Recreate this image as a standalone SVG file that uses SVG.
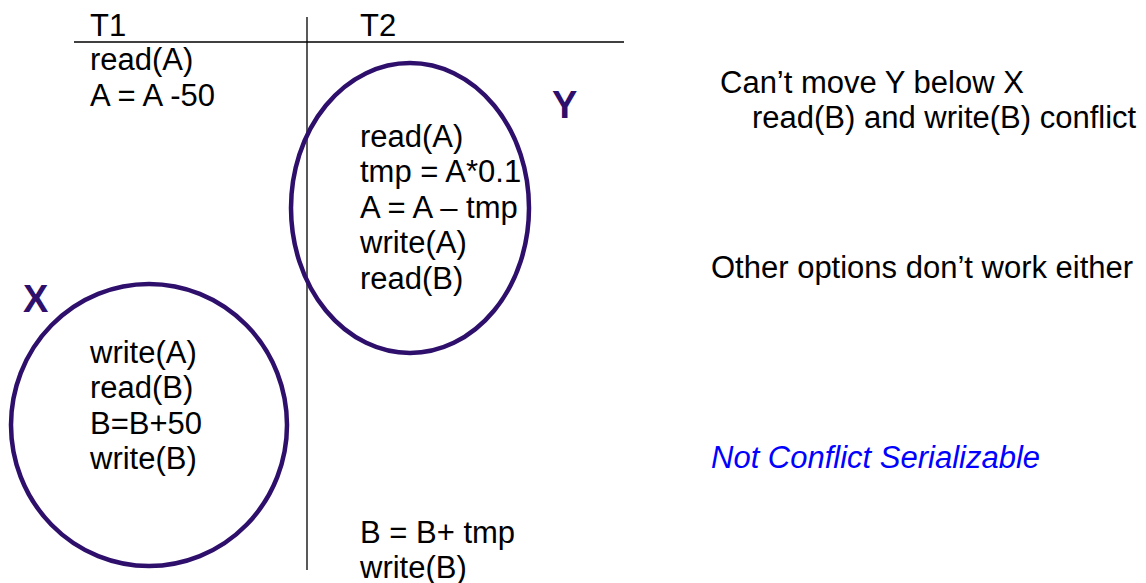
<svg xmlns="http://www.w3.org/2000/svg" width="1146" height="583" viewBox="0 0 1146 583">
<style>
text{font-family:"Liberation Sans",Arial,sans-serif;font-size:31px;fill:#000}
.lbl{font-weight:bold;font-size:38px;fill:#2e0f6b}
.ring{fill:none;stroke:#2e0f6b;stroke-width:4.5}
.rule{stroke:#000;stroke-width:1.3}
.blue{fill:#0000ff;font-style:italic}
</style>
<rect width="1146" height="583" fill="#fff"/>
<g id="connectors">
<line class="rule" x1="74" y1="42" x2="624" y2="42"/>
<line class="rule" x1="307" y1="17" x2="307" y2="570"/>
</g>
<g id="header">
<text x="90" y="36">T1</text>
<text x="360" y="36">T2</text>
</g>
<g id="t1-top">
<text x="90" y="70">read(A)</text>
<text x="90" y="106">A = A -50</text>
</g>
<g id="Y">
<ellipse class="ring" cx="410" cy="208" rx="119" ry="145"/>
<text class="lbl" x="552" y="118">Y</text>
<text x="360" y="147">read(A)</text>
<text x="360" y="182">tmp = A*0.1</text>
<text x="360" y="218">A = A – tmp</text>
<text x="360" y="253">write(A)</text>
<text x="360" y="289">read(B)</text>
</g>
<g id="X">
<ellipse class="ring" cx="149" cy="425" rx="138" ry="141"/>
<text class="lbl" x="23" y="312">X</text>
<text x="90" y="363">write(A)</text>
<text x="90" y="398">read(B)</text>
<text x="90" y="434">B=B+50</text>
<text x="90" y="469">write(B)</text>
</g>
<g id="t2-bottom">
<text x="360" y="543">B = B+ tmp</text>
<text x="360" y="578">write(B)</text>
</g>
<g id="notes">
<text x="720" y="93">Can’t move Y below X</text>
<text x="752" y="128">read(B) and write(B) conflict</text>
<text x="711" y="278">Other options don’t work either</text>
<text class="blue" x="711" y="468">Not Conflict Serializable</text>
</g>
</svg>
